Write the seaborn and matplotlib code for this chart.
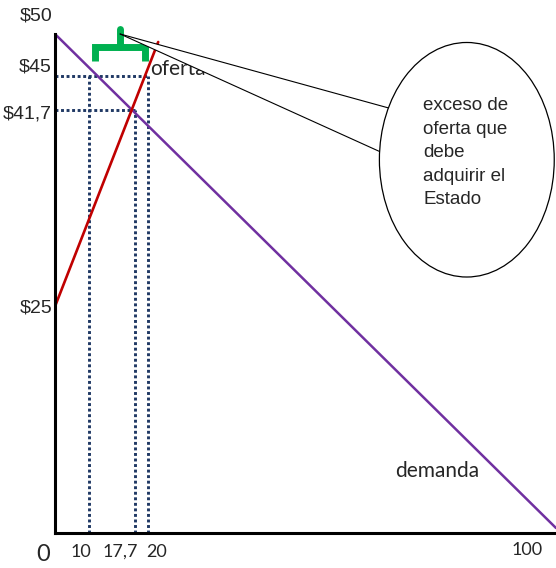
import matplotlib
matplotlib.use("Agg")
import matplotlib.pyplot as plt
from matplotlib.patches import Ellipse, Polygon
import seaborn as sns

# curvas (coordenadas tal como se ven en el dibujo, eje x 0-100, eje y 0-50)
demanda_q = [0, 100]
demanda_p = [50, 0.5]
oferta_q = [0, 20.6]
oferta_p = [22.7, 49.2]

# lineas punteadas de referencia
guias_x = [6.8, 16.0, 18.6]
guias_x_tope = [45.8, 42.4, 45.8]
guias_y = [45.8, 42.4]
guias_y_fin = [18.6, 16.0]

# llave verde (exceso de oferta)
llave_x = [8.0, 8.0, 18.0, 18.0]
llave_y = [47.3, 48.65, 48.65, 47.3]
llave_centro = 13.0
llave_tope = 50.5

# globo
globo_cola_x = [13.0, 66.5, 64.9]
globo_cola_y = [50.0, 42.6, 38.2]
globo_centro = (82.2, 37.4)
globo_ancho = 34.9
globo_alto = 23.5

# etiquetas de los ejes
etiq_x = ["0", "10", "17,7", "20", "100"]
etiq_x_pos = [-2.4, 5.2, 13.0, 20.2, 94.2]
etiq_x_alt = [-2.2, -1.9, -1.9, -1.9, -1.7]
etiq_y = ["$50", "$45", "$41,7", "$25"]
etiq_y_pos = [51.8, 46.7, 42.0, 22.5]

sns.set_style("white")
plt.rcParams['font.family'] = ['Lato', 'DejaVu Sans']
arial = ['Liberation Sans', 'DejaVu Sans']

fig = plt.figure(figsize=(5.56, 5.68), dpi=100)
ax = fig.add_axes([55/556, 35/568, 501/556, 499/568])
ax.set_xlim(0, 100)
ax.set_ylim(0, 50)
ax.set_xticks([])
ax.set_yticks([])
for s in ['top', 'right']:
    ax.spines[s].set_visible(False)
for s in ['left', 'bottom']:
    ax.spines[s].set_linewidth(2.2)
    ax.spines[s].set_color('black')
    ax.spines[s].set_zorder(6)

navy = '#1F3864'
for x, top in zip(guias_x, guias_x_tope):
    ax.plot([x, x], [0, top], color=navy, lw=2.1, ls=(0, (1, 0.9)), zorder=2)
for y, fin in zip(guias_y, guias_y_fin):
    ax.plot([0, fin], [y, y], color=navy, lw=2.1, ls=(0, (1, 0.9)), zorder=2)

sns.lineplot(x=demanda_q, y=demanda_p, ax=ax, color='#7030A0', lw=1.8, zorder=3)
sns.lineplot(x=oferta_q, y=oferta_p, ax=ax, color='#C00000', lw=1.9, zorder=3)

verde = '#00B050'
ax.plot(llave_x, llave_y, color=verde, lw=5, solid_joinstyle='miter',
        solid_capstyle='butt', clip_on=False, zorder=4)
ax.plot([llave_centro, llave_centro], [48.65, llave_tope], color=verde, lw=5,
        solid_capstyle='round', clip_on=False, zorder=4)

ax.text(19.0, 45.9, "oferta", fontsize=15, va='baseline', ha='left', zorder=5)
ax.text(67.9, 5.6, "demanda", fontsize=15, va='baseline', ha='left', zorder=5)

# globo con cola
cola = Polygon(list(zip(globo_cola_x, globo_cola_y)), closed=True,
               facecolor='white', edgecolor='none', clip_on=False, zorder=7)
ax.add_patch(cola)
for i in [1, 2]:
    ax.plot([globo_cola_x[0], globo_cola_x[i]], [globo_cola_y[0], globo_cola_y[i]],
            color='black', lw=0.8, clip_on=False, zorder=8)
elip = Ellipse(globo_centro, globo_ancho, globo_alto, facecolor='white',
               edgecolor='black', lw=0.9, clip_on=False, zorder=9)
ax.add_patch(elip)
ax.text(73.5, 38.1, "exceso de\noferta que\ndebe\nadquirir el\nEstado",
        fontsize=13.5, family=arial, ha='left', va='center', linespacing=1.5,
        zorder=10)

for t, x, y in zip(etiq_x, etiq_x_pos, etiq_x_alt):
    ax.text(x, y, t, fontsize=17 if t == "0" else 13, ha='center', va='center',
            clip_on=False)
for t, y in zip(etiq_y, etiq_y_pos):
    ax.text(-0.6, y, t, fontsize=14, family=arial, ha='right', va='center',
            clip_on=False)

fig.savefig("out.png", dpi=100)
